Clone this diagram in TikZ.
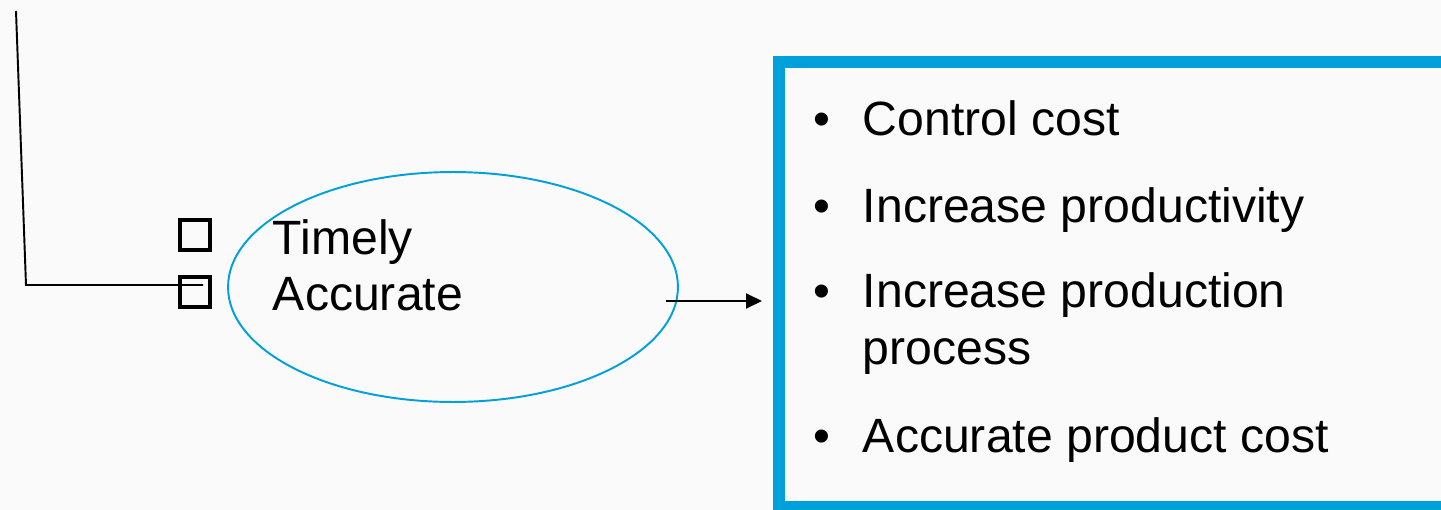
\documentclass[tikz,border=0pt]{standalone}
\usepackage{fontspec}
\setmainfont{Liberation Sans}
\usetikzlibrary{arrows.meta,shapes.geometric}
\definecolor{boxblue}{RGB}{0,160,219}
\definecolor{paper}{RGB}{250,250,250}

\begin{document}
\begin{tikzpicture}[x=0.02cm, y=-0.02cm, node distance={1.14cm}, line width=1.1pt,
    txt/.style = {anchor=base west, inner sep=0pt, font=\fontsize{27.4}{32}\selectfont},
    tick/.style = {draw, line width=2.7pt, minimum size=0.6cm, inner sep=0pt},
    oval/.style = {draw=boxblue, ellipse, line width=1.1pt, minimum width=9cm, minimum height=4.6cm},
    frame/.style = {draw=boxblue, line width=6.8pt, outer sep=0pt, minimum width=13.82cm, minimum height=8.9cm, anchor=north west}]
        \useasboundingbox[fill=paper] (0,0) rectangle (1441,510);
        \clip (0,0) rectangle (1441,510);
        \node[oval] (e) at (453,287) {};
        \node[tick] (1) at (195,235) {};
        \node[tick] (2) [below of=1] {};
        \node[txt] (t1) at (272,255) {Timely};
        \node[txt] (t2) at (272,310) {Accurate};
        \coordinate (s) at (16,11);
        \coordinate (c) at (26,285);
        \coordinate (d) at (203,285);
        \draw (s) -- (c) -- (d);
        \node[frame] (b) at (779,62) {};
        \coordinate (a) at (666,301);
        \draw[-{Triangle[length=0.32cm,width=0.3cm]}, shorten >=0.34cm] (a) -- (a -| b.west);
        \node[txt] (p1) at (813,135) {•};
        \node[txt] (i1) at (862,135) {Control cost};
        \node[txt] (p2) at (813,222) {•};
        \node[txt] (i2) at (862,222) {Increase productivity};
        \node[txt] (p3) at (813,307) {•};
        \node[txt] (i3) at (862,307) {Increase production};
        \node[txt] (i3b) at (862,364) {process};
        \node[txt] (p4) at (813,452) {•};
        \node[txt] (i4) at (862,452) {Accurate product cost};
    \end{tikzpicture}
\end{document}
